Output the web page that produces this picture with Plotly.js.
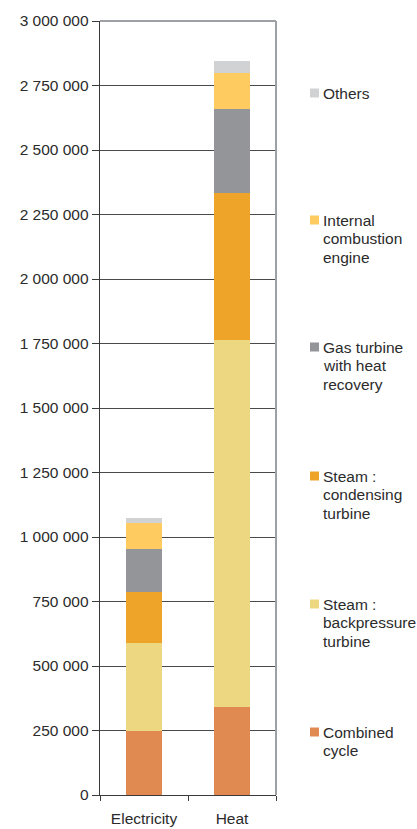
<!DOCTYPE html>
<html>
<head>
<meta charset="utf-8">
<script src="https://cdn.plot.ly/plotly-3.0.1.min.js"></script>
<style>html,body{margin:0;padding:0;background:#fff;}#chart{width:417px;height:829px;}</style>
</head>
<body>
<div id="chart"></div>
<script>
var categories = ["Electricity", "Heat"];
var seriesNames = ["Combined cycle", "Steam : backpressure turbine", "Steam : condensing turbine", "Gas turbine with heat recovery", "Internal combustion engine", "Others"];
var legendLines = [["Combined", "cycle"], ["Steam :", "backpressure", "turbine"], ["Steam :", "condensing", "turbine"], ["Gas turbine", "with heat", "recovery"], ["Internal", "combustion", "engine"], ["Others"]];
var combinedCycle = [248000, 341000];
var steamBackpressure = [342000, 1423000];
var steamCondensing = [198000, 569000];
var gasTurbine = [165000, 326000];
var internalCombustion = [101000, 139000];
var others = [20000, 47000];
var seriesValues = [combinedCycle, steamBackpressure, steamCondensing, gasTurbine, internalCombustion, others];
var colors = ["#E08A52", "#EED781", "#EDA428", "#939598", "#FDCB5F", "#D1D2D4"];
var tickVals = [0, 250000, 500000, 750000, 1000000, 1250000, 1500000, 1750000, 2000000, 2250000, 2500000, 2750000, 3000000];

var fontFam = "'Liberation Sans', Arial, sans-serif";
var traces = seriesNames.map(function (n, i) {
  return {type: "bar", x: categories, y: seriesValues[i], name: n, marker: {color: colors[i], line: {width: 0}}, hoverinfo: "y+name"};
});

var W = 417, H = 829, mL = 100, mR = 141, mT = 21, mB = 34;
var pw = W - mL - mR, ph = H - mT - mB;
function px2x(p) { return (p - mL) / pw; }
function py2y(p) { return (H - mB - p) / ph; }

var legendCenters = [732, 604, 476, 347, 220, 93];
var lineStep = 18.7;
var shapes = [
  {type: "line", xref: "paper", yref: "paper", x0: 1, x1: 1, y0: 0, y1: 1, line: {color: "#9da1a6", width: 2}},
  {type: "line", xref: "paper", yref: "paper", x0: 0, x1: 1, y0: 1, y1: 1, line: {color: "#9da1a6", width: 2}}
];
var annotations = [];
legendLines.forEach(function (lines, i) {
  var c = legendCenters[i];
  shapes.push({type: "rect", xref: "paper", yref: "paper", x0: px2x(310), x1: px2x(319), y0: py2y(c + 4.5), y1: py2y(c - 4.5), fillcolor: colors[i], line: {width: 0}});
  lines.forEach(function (t, k) {
    annotations.push({xref: "paper", yref: "paper", x: px2x(321), y: py2y(c + k * lineStep), xanchor: "left", yanchor: "middle", align: "left", showarrow: false, text: t, font: {family: fontFam, size: 15.5, color: "#2b2b2b"}});
  });
});

var layout = {
  width: W, height: H,
  margin: {l: mL, r: mR, t: mT, b: mB, pad: 0},
  paper_bgcolor: "#fff", plot_bgcolor: "#fff",
  barmode: "stack", bargap: 0.59,
  showlegend: false,
  separators: ", ",
  font: {family: fontFam, size: 16, color: "#2b2b2b"},
  xaxis: {
    type: "category", showline: true, linecolor: "#3a3a3a", linewidth: 1.3,
    ticks: "outside", tickson: "boundaries", ticklen: 5, tickcolor: "#3a3a3a",
    ticklabelstandoff: 9,
    showgrid: false, tickfont: {size: 15.5}, fixedrange: true
  },
  yaxis: {
    range: [0, 3000000], tickvals: tickVals, tickformat: ",d",
    showline: true, linecolor: "#3a3a3a", linewidth: 1.3,
    ticks: "outside", ticklen: 7, tickcolor: "#3a3a3a",
    showgrid: true, gridcolor: "#4a4a4a", gridwidth: 1,
    zeroline: false, tickfont: {size: 15.5}, fixedrange: true
  },
  shapes: shapes,
  annotations: annotations
};

Plotly.newPlot("chart", traces, layout, {displayModeBar: false, staticPlot: true});
</script>
</body>
</html>
